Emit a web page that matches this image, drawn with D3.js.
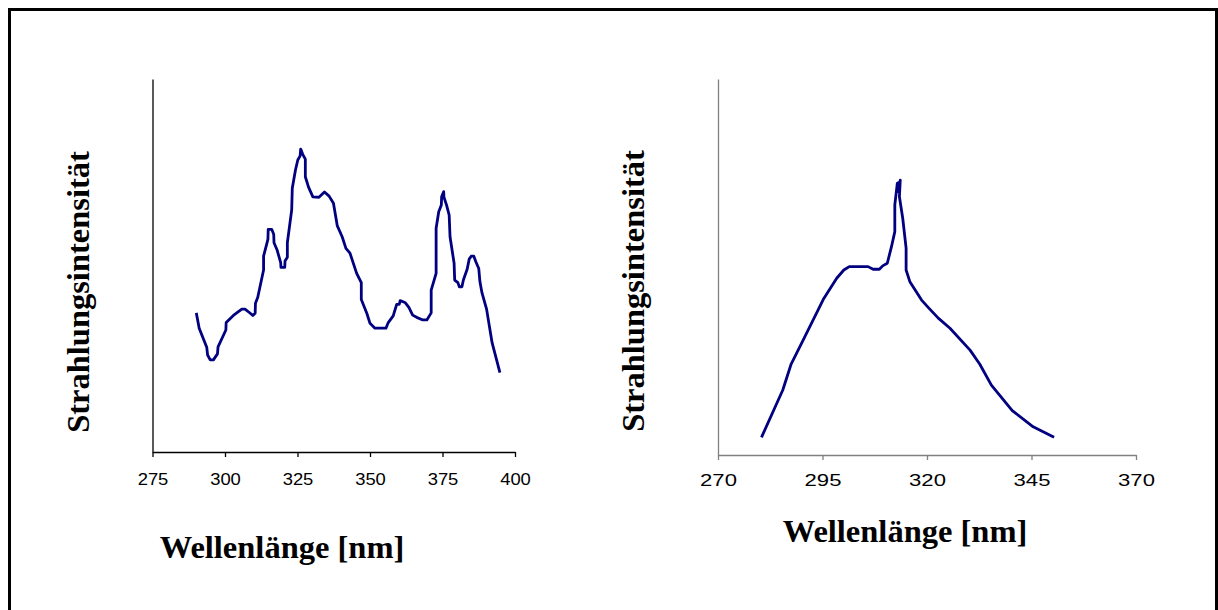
<!DOCTYPE html>
<html>
<head>
<meta charset="utf-8">
<script src="https://cdn.jsdelivr.net/npm/d3@7"></script>
<style>
  html, body { margin: 0; padding: 0; background: #fff; }
  svg { display: block; }
</style>
</head>
<body>
<svg id="chart" width="1218" height="610"></svg>
<script>
// Spectrum 1: wavelength (nm) and relative radiation intensity
const leftWavelength = [290.1, 291.1, 292.6, 293.7, 294.0, 294.9, 296.0, 297.4, 297.6, 300.3, 300.4, 302.9, 305.8, 306.9, 308.7, 309.6, 310.4, 310.5, 311.3, 313.3, 313.3, 314.8, 314.9, 316.1, 316.8, 316.9, 317.9, 319.2, 319.3, 320.6, 320.7, 321.5, 321.5, 323.0, 323.2, 324.3, 325.1, 325.9, 326.1, 326.8, 327.7, 327.7, 328.8, 330.3, 332.4, 334.3, 335.9, 337.4, 338.7, 340.4, 341.7, 343.1, 345.4, 347.0, 347.0, 348.9, 350.0, 351.7, 355.5, 356.3, 358.0, 359.2, 360.1, 360.4, 362.2, 363.4, 364.7, 366.1, 368.2, 369.6, 371.1, 371.1, 372.8, 372.8, 373.7, 374.6, 374.7, 375.4, 375.5, 376.4, 377.3, 377.6, 379.0, 379.2, 380.3, 380.8, 381.7, 382.2, 383.5, 384.2, 384.9, 385.8, 386.5, 387.5, 387.9, 388.6, 390.2, 392.1, 394.8];
const leftIntensity = [37.3, 33.2, 30.2, 28.1, 26.0, 24.7, 24.7, 26.3, 28.2, 32.7, 34.7, 36.6, 38.3, 38.3, 37.2, 36.6, 37.2, 39.9, 41.5, 48.8, 52.5, 57.0, 59.7, 59.7, 58.4, 56.1, 54.3, 50.8, 49.5, 49.5, 51.2, 52.2, 56.1, 64.9, 70.7, 75.6, 78.3, 79.4, 81.2, 79.8, 78.5, 73.8, 71.0, 68.4, 68.3, 69.7, 68.6, 66.7, 60.7, 57.7, 54.6, 53.3, 47.9, 45.4, 40.9, 37.2, 34.5, 33.2, 33.2, 34.7, 36.5, 39.6, 39.6, 40.6, 40.0, 38.8, 36.7, 36.1, 35.4, 35.4, 37.3, 43.4, 47.9, 60.0, 64.4, 66.2, 68.4, 69.8, 68.3, 66.2, 63.5, 57.7, 50.6, 46.1, 45.4, 44.3, 44.3, 46.1, 49.0, 51.7, 52.5, 52.5, 51.0, 49.2, 45.7, 42.7, 38.3, 29.3, 21.3];
const leftTicks = [275, 300, 325, 350, 375, 400];

// Spectrum 2: wavelength (nm) and relative radiation intensity
const rightWavelength = [280.4, 285.5, 287.5, 290.4, 295.2, 298.4, 300.1, 301.4, 305.9, 307.1, 308.6, 309.4, 310.5, 311.5, 312.3, 312.3, 312.9, 313.1, 313.2, 313.6, 313.4, 314.2, 315.0, 315.0, 315.9, 318.7, 320.5, 322.7, 325.5, 330.3, 332.6, 335.4, 340.4, 345.4, 350.4];
const rightIntensity = [4.7, 17.3, 24.2, 30.6, 41.4, 47.0, 49.2, 50.1, 50.1, 49.4, 49.4, 50.3, 51.0, 55.4, 59.4, 66.5, 72.3, 72.4, 70.0, 73.1, 68.7, 62.9, 55.0, 49.2, 46.1, 41.2, 39.0, 36.4, 33.7, 27.9, 24.2, 18.6, 11.8, 7.5, 4.7];
const rightTicks = [270, 295, 320, 345, 370];

const yTitle = "Strahlungsintensität";
const xTitle = "Wellenlänge [nm]";

const svg = d3.select("#chart");
const lineColor = "#000080";
const serif = "'Liberation Serif', 'Times New Roman', serif";
const sans = "'Liberation Sans', Arial, sans-serif";

// Outer frame
svg.append("path")
  .attr("d", "M9.5,610 L9.5,9.5 L1216.5,9.5 L1216.5,610")
  .attr("fill", "none")
  .attr("stroke", "#000")
  .attr("stroke-width", 3);

function drawPanel(cfg) {
  const x = d3.scaleLinear().domain(cfg.xDomain).range([cfg.left, cfg.right]);
  const y = d3.scaleLinear().domain([0, 100]).range([cfg.bottom, cfg.top]);
  const g = svg.append("g");

  // x axis
  const xAxis = g.append("g")
    .attr("transform", `translate(0,${cfg.bottom})`)
    .call(d3.axisBottom(x).tickValues(cfg.ticks).tickSize(5).tickSizeOuter(0).tickFormat(d3.format("d")));
  xAxis.select(".domain").attr("stroke", cfg.axisColor).attr("stroke-width", 1.3);
  xAxis.selectAll(".tick line").attr("stroke", cfg.axisColor).attr("stroke-width", 1.3);
  xAxis.selectAll(".tick text")
    .attr("y", cfg.labelOffset)
    .attr("dy", 0)
    .attr("fill", "#000")
    .attr("font-family", sans)
    .attr("font-size", cfg.labelSize)
    .attr("transform", `scale(${cfg.labelStretch},1)`);

  // y axis (no ticks)
  const yAxis = g.append("g")
    .attr("transform", `translate(${cfg.left},0)`)
    .call(d3.axisLeft(y).tickValues([]).tickSizeOuter(0));
  yAxis.select(".domain").attr("stroke", cfg.axisColor).attr("stroke-width", 1.3);

  // spectrum line
  const pts = cfg.xs.map((d, i) => [d, cfg.ys[i]]);
  g.append("path")
    .datum(pts)
    .attr("fill", "none")
    .attr("stroke", lineColor)
    .attr("stroke-width", 2.8)
    .attr("stroke-linejoin", "round")
    .attr("d", d3.line().x(d => x(d[0])).y(d => y(d[1])));

  // axis titles
  g.append("text")
    .attr("x", cfg.xTitleX)
    .attr("y", cfg.xTitleY)
    .attr("text-anchor", "middle")
    .attr("font-family", serif)
    .attr("font-weight", "bold")
    .attr("font-size", 32.5)
    .text(xTitle);

  g.append("text")
    .attr("transform", `translate(${cfg.yTitleX},${cfg.yTitleY}) rotate(-90)`)
    .attr("text-anchor", "middle")
    .attr("font-family", serif)
    .attr("font-weight", "bold")
    .attr("font-size", 32.5)
    .text(yTitle);
}

drawPanel({
  xDomain: [275, 400], ticks: leftTicks,
  left: 152.5, right: 515, top: 79, bottom: 452,
  xs: leftWavelength, ys: leftIntensity,
  axisColor: "#000", labelSize: 16, labelStretch: 1.15, labelOffset: 33,
  xTitleX: 282, xTitleY: 558,
  yTitleX: 89, yTitleY: 292
});

drawPanel({
  xDomain: [270, 370], ticks: rightTicks,
  left: 718, right: 1136, top: 79, bottom: 455,
  xs: rightWavelength, ys: rightIntensity,
  axisColor: "#808080", labelSize: 17, labelStretch: 1.3, labelOffset: 31,
  xTitleX: 905, xTitleY: 542,
  yTitleX: 644, yTitleY: 291
});
</script>
</body>
</html>
